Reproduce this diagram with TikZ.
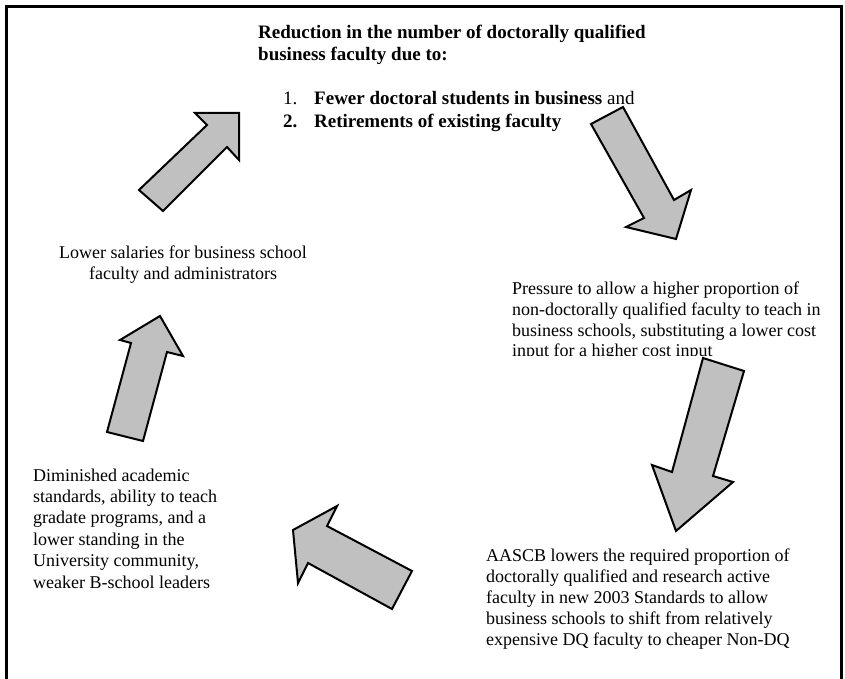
\documentclass[tikz,border=0pt]{standalone}
\usepackage{fontspec}
\setmainfont{Liberation Serif}
\definecolor{arrowgray}{RGB}{192,192,192}
\begin{document}
\begin{tikzpicture}[x=1pt,y=-1pt,
  blockarrow/.style={draw=black,line width=2pt,fill=arrowgray,line join=miter},
  txt/.style={inner sep=0pt,anchor=base west,font=\fontsize{18}{20.7}\selectfont},
  toptxt/.style={inner sep=0pt,anchor=base west,font=\fontsize{19}{21.9}\selectfont},
  ctxt/.style={inner sep=0pt,anchor=base,font=\fontsize{18}{20.7}\selectfont}]
\useasboundingbox (0,0) rectangle (845,679);
% frame
\draw[line width=3pt] (6.5,682) -- (6.5,6.5) -- (841.5,6.5) -- (841.5,682);

% title
\node[toptxt] (t1) at (258,39) {\bfseries Reduction in the number of doctorally qualified};
\node[toptxt] (t2) at (258,61) {\bfseries business faculty due to:};
\node[toptxt] (n1) at (283,105) {1.};
\node[toptxt] (i1) at (314,105) {\bfseries Fewer doctoral students in business\mdseries{} and};
\node[toptxt] (n2) at (283,128) {\bfseries 2.};
\node[toptxt] (i2) at (314,128) {\bfseries Retirements of existing faculty};

% right block (clipped at bottom)
\begin{scope}
\clip (500,270) rectangle (845,355);
\node[txt] (r1) at (512,294.5) {Pressure to allow a higher proportion of};
\node[txt] (r2) at (512,315.2) {non-doctorally qualified faculty to teach in};
\node[txt] (r3) at (512,336) {business schools, substituting a lower cost};
\node[txt] (r4) at (512,356.7) {input for a higher cost input};
\end{scope}

% bottom right block
\node[txt] (b1) at (486,561) {AASCB lowers the required proportion of};
\node[txt] (b2) at (486,582) {doctorally qualified and research active};
\node[txt] (b3) at (486,603) {faculty in new 2003 Standards to allow};
\node[txt] (b4) at (486,624) {business schools to shift from relatively};
\node[txt] (b5) at (486,645) {expensive DQ faculty to cheaper Non-DQ};

% bottom left block
\node[txt] (l1) at (33,481) {Diminished academic};
\node[txt] (l2) at (33,502.4) {standards, ability to teach};
\node[txt] (l3) at (33,523.8) {gradate programs, and a};
\node[txt] (l4) at (33,545.2) {lower standing in the};
\node[txt] (l5) at (33,566.6) {University community,};
\node[txt] (l6) at (33,588) {weaker B-school leaders};

% upper left block
\node[ctxt] (u1) at (183,258) {Lower salaries for business school};
\node[ctxt] (u2) at (183,279) {faculty and administrators};

% block arrows
\draw[blockarrow] (239,113) -- (195,113) -- (207,125) -- (139,190) -- (163,211) -- (227,147) -- (239,160) -- cycle;
\draw[blockarrow] (591,124) -- (623,107) -- (674,200) -- (691,190) -- (676,239) -- (626,227) -- (644,218) -- cycle;
\draw[blockarrow] (703,358) -- (744,371) -- (713,476) -- (733,482) -- (676,531) -- (652,465) -- (672,472) -- cycle;
\draw[blockarrow] (293,530) -- (337,506) -- (327,526) -- (412,571) -- (392,609) -- (308,563) -- (298,583) -- cycle;
\draw[blockarrow] (160,316) -- (183,356) -- (167,352) -- (143,441) -- (107,432) -- (131,343) -- (120,340) -- cycle;
\end{tikzpicture}
\end{document}
